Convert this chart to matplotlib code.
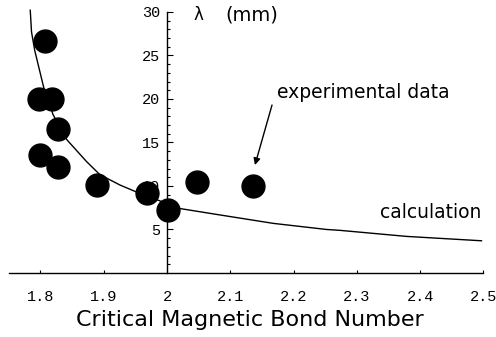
import numpy as np
import matplotlib
matplotlib.use("Agg")
import matplotlib.pyplot as plt

# experimental points (critical magnetic bond number, wavelength in mm)
bond_exp = [1.807, 1.798, 1.818, 1.828, 1.799, 1.828, 1.889, 1.968, 2.002, 2.047, 2.136]
lam_exp = [26.7, 20.0, 20.0, 16.6, 13.6, 12.2, 10.1, 9.2, 7.2, 10.5, 10.0]

# calculated curve
bond_calc = [1.784, 1.786, 1.791, 1.805, 1.820, 1.842, 1.873, 1.894, 1.926,
             1.952, 2.021, 2.081, 2.168, 2.252, 2.273, 2.379, 2.497]
lam_calc = [30.2, 27.7, 25.6, 21.4, 18.2, 15.3, 12.8, 11.3, 10.1,
            9.3, 7.4, 6.7, 5.7, 5.0, 4.9, 4.2, 3.7]

xticks = [1.8, 1.9, 2.0, 2.1, 2.2, 2.3, 2.4, 2.5]
xticklabels = ["1.8", "1.9", "2", "2.1", "2.2", "2.3", "2.4", "2.5"]
yticks = [5, 10, 15, 20, 25, 30]

fig = plt.figure(figsize=(4.96, 3.37), dpi=100)
ax = fig.add_axes([0.0176, 0.19, 0.957, 0.7875])

ax.plot(bond_calc, lam_calc, color="black", lw=1.0)
ax.plot(bond_exp, lam_exp, "o", color="black", ms=16.5)

ax.set_xlim(1.75, 2.5)
ax.set_ylim(0, 30.5)

# axes crossing like Mathematica
ax.spines["left"].set_position(("data", 2.0))
ax.spines["left"].set_bounds(0, 30)
ax.spines["bottom"].set_position(("data", 0))
ax.spines["top"].set_visible(False)
ax.spines["right"].set_visible(False)
for s in ["left", "bottom"]:
    ax.spines[s].set_linewidth(1.0)

ax.set_xticks(xticks)
ax.set_xticklabels(xticklabels)
ax.set_yticks(yticks)
ax.set_yticks(np.arange(1, 30, 1), minor=True)
ax.tick_params(axis="x", direction="in", length=2.5, width=0.8, pad=12)
ax.tick_params(axis="y", which="major", direction="in", length=4, width=0.8, pad=5)
ax.tick_params(axis="y", which="minor", direction="in", length=2, width=0.8)
for lab in ax.get_xticklabels() + ax.get_yticklabels():
    lab.set_fontfamily("Liberation Mono")
    lab.set_fontsize(11)

ax.text(2.05, 29.7, "λ", fontsize=12, va="center", ha="center")
ax.text(2.092, 29.7, "(mm)", fontsize=14, va="center", ha="left")
ax.text(2.174, 20.7, "experimental data", fontsize=13.5, va="center", ha="left")
ax.text(2.497, 6.9, "calculation", fontsize=13.5, va="center", ha="right")
ax.annotate("", xy=(2.139, 12.4), xytext=(2.166, 19.3),
            arrowprops=dict(arrowstyle="-|>", color="black", lw=1.0,
                            mutation_scale=10, shrinkA=0, shrinkB=0))

fig.text(250 / 496, 1 - 320 / 337, "Critical Magnetic Bond Number",
         fontsize=16, ha="center", va="center")

fig.savefig("out.png", dpi=100)
